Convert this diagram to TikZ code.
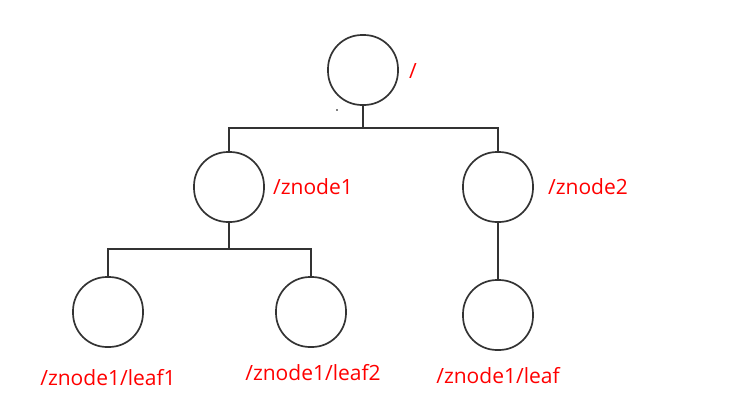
\documentclass[tikz,border=0pt]{standalone}
\usepackage{fontspec}
\setmainfont{Open Sans}
\usetikzlibrary{positioning}

\definecolor{linegray}{HTML}{333333}

\begin{document}
\begin{tikzpicture}[x=1pt, y=-1pt,
  znode/.style={rectangle, rounded corners=34pt, draw=linegray, line width=1.7pt,
    minimum size=70pt, inner sep=0pt},
  path/.style={text=red, font=\fontsize{21}{24}\selectfont, inner sep=0pt},
  link/.style={draw=linegray, line width=1.7pt}]

  \useasboundingbox (0,0) rectangle (732,400);

  % tree nodes
  \node[znode] (root) at (363,70) {};
  \node[znode] (zn1) at (229,187) {};
  \node[znode] (zn2) at (498,187) {};
  \node[znode] (leaf1) at (108,312) {};
  \node[znode] (leaf2) at (311,312) {};
  \node[znode] (leaf3) at (498,315) {};

  % labels
  \node[path] (root-lbl) at (413,71) {/};
  \node[path] (zn1-lbl) at (313,187) {/znode1};
  \node[path] (zn2-lbl) at (588,187) {/znode2};
  \node[path] (leaf1-lbl) at (108,378) {/znode1/leaf1};
  \node[path] (leaf2-lbl) at (313,373) {/znode1/leaf2};
  \node[path] (leaf3-lbl) at (498,376) {/znode1/leaf};

  % connectors
  \coordinate (root-bus) at (363,128);
  \coordinate (zn1-bus) at (229,249);
  \draw[link] (root) -- (root-bus) -| (zn1);
  \draw[link] (root-bus) -| (zn2);
  \draw[link] (zn1) -- (zn1-bus) -| (leaf1);
  \draw[link] (zn1-bus) -| (leaf2);
  \draw[link] (zn2) -- (leaf3);

  \fill[black] (337,110) circle (0.8);
\end{tikzpicture}
\end{document}
